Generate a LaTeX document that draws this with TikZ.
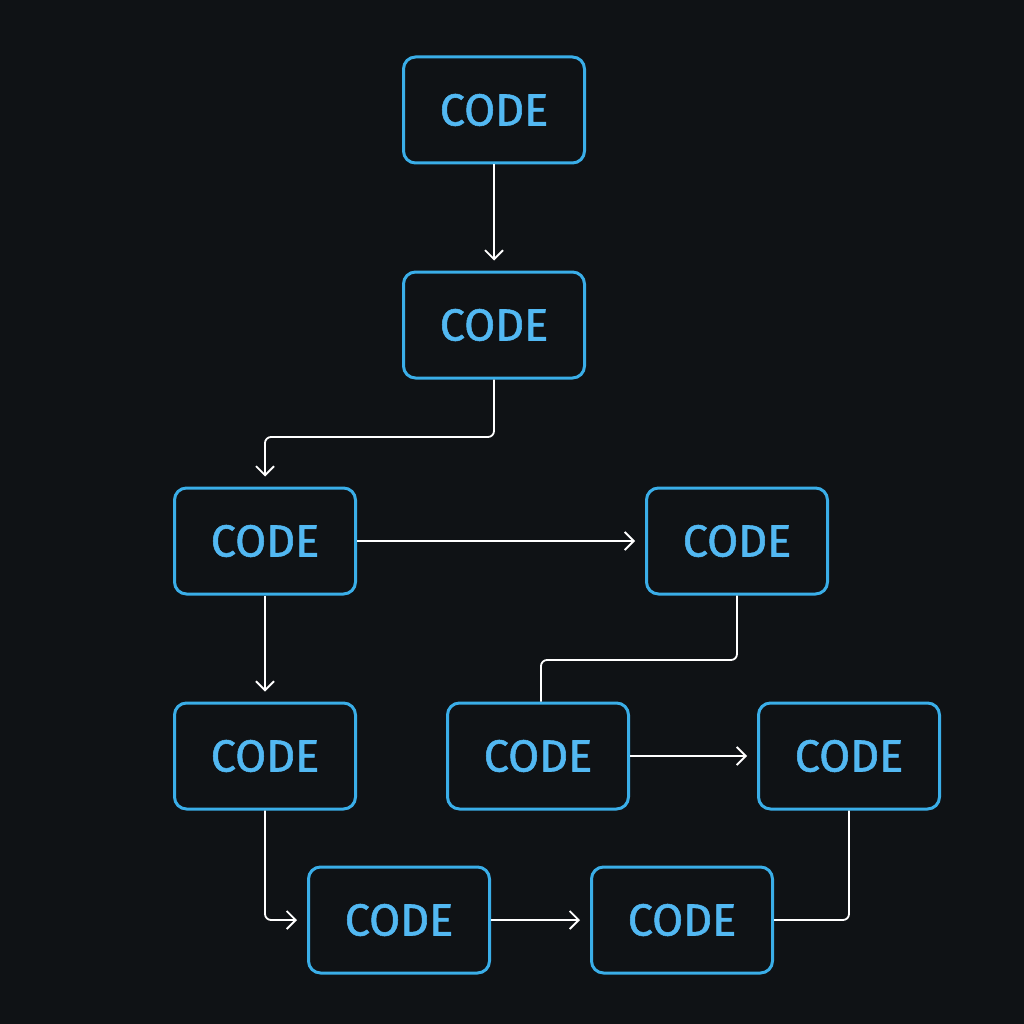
\documentclass[tikz,border=0pt]{standalone}
\usepackage{fontspec}
\setmainfont{Fira Sans}
\usetikzlibrary{arrows.meta}
\definecolor{bg}{HTML}{0F1215}
\definecolor{bx}{HTML}{3AAEE8}
\definecolor{tx}{HTML}{52B8F2}
\begin{document}
\begin{tikzpicture}[x=1pt,y=-1pt,
  box/.style={draw=bx,line width=3pt,rounded corners=12pt,minimum width=181pt,minimum height=106pt,inner sep=0pt,text=tx,font=\fontsize{45}{45}\selectfont\addfontfeature{FakeBold=1.2}},
  con/.style={draw=white,line width=1.8pt,rounded corners=6pt},
  arr/.style={con,-{Straight Barb[length=9pt,width=18pt,line width=1.8pt]}}]
\fill[bg] (0,0) rectangle (1024,1024);
\useasboundingbox (0,0) rectangle (1024,1024);
\node[box] (n1) at (494,110) {CODE};
\node[box] (n2) at (494,325) {CODE};
\node[box] (n3) at (265,541) {CODE};
\node[box] (n4) at (737,541) {CODE};
\node[box] (n5) at (265,756) {CODE};
\node[box] (n6) at (538,756) {CODE};
\node[box] (n7) at (849,756) {CODE};
\node[box] (n8) at (399,920) {CODE};
\node[box] (n9) at (682,920) {CODE};
\draw[arr,shorten >=10pt] (n1) -- (n2);
\draw[arr,shorten >=10pt] (n2.south) |- (380,437) -| (n3.north);
\draw[arr,shorten >=10pt] (n3) -- (n4);
\draw[arr,shorten >=10pt] (n3) -- (n5);
\draw[con] (n4.south) |- (640,660) -| (n6.north west -| 541,0);
\draw[arr,shorten >=10pt] (n6) -- (n7);
\draw[arr,shorten >=10pt] (n5.south) |- (n8.west);
\draw[arr,shorten >=10pt] (n8) -- (n9);
\draw[con] (n9.east) -| (n7.south);
\end{tikzpicture}
\end{document}
